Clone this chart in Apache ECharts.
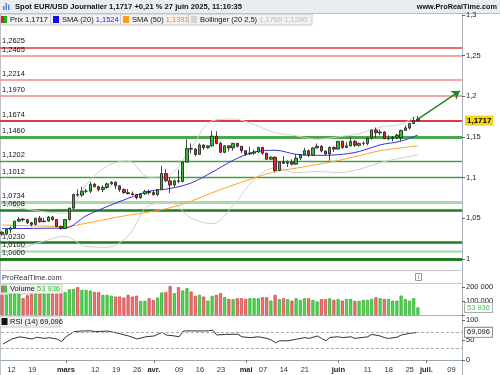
<!DOCTYPE html>
<html><head><meta charset="utf-8">
<script src="https://cdn.jsdelivr.net/npm/echarts@6/dist/echarts.min.js"></script>
<style>html,body{margin:0;padding:0;background:#fff}#c{width:500px;height:375px}</style>
</head><body><div id="c"></div>
<script>
// ---------- DATA ----------
const dates = ['02-10','02-11','02-12','02-13','02-14','02-17','02-18','02-19','02-20','02-21','02-24','02-25','02-26','02-27','02-28',
'03-03','03-04','03-05','03-06','03-07','03-10','03-11','03-12','03-13','03-14','03-17','03-18','03-19','03-20','03-21','03-24','03-25','03-26','03-27','03-28','03-31',
'04-01','04-02','04-03','04-04','04-07','04-08','04-09','04-10','04-11','04-14','04-15','04-16','04-17','04-18','04-21','04-22','04-23','04-24','04-25','04-28','04-29','04-30',
'05-01','05-02','05-05','05-06','05-07','05-08','05-09','05-12','05-13','05-14','05-15','05-16','05-19','05-20','05-21','05-22','05-23','05-26','05-27','05-28','05-29','05-30',
'06-02','06-03','06-04','06-05','06-06','06-09','06-10','06-11','06-12','06-13','06-16','06-17','06-18','06-19','06-20','06-23','06-24','06-25','06-26','06-27','06-30',
'07-01','07-02','07-03','07-04','07-07','07-08','07-09','07-10','07-11'];

const openP = [1.0330,1.0306,1.0362,1.0382,1.0465,1.0490,1.0482,1.0445,1.0425,1.0500,1.0459,1.0466,1.0514,1.0485,1.0398,
1.0375,1.0485,1.0625,1.0791,1.0785,1.0833,1.0833,1.0918,1.0888,1.0853,1.0879,1.0923,1.0943,1.0899,1.0854,1.0815,1.0802,1.0792,1.0753,1.0800,
1.0830,1.0816,1.0791,1.0852,1.1050,1.0960,1.0910,1.0960,1.0954,1.1190,1.1356,1.1350,1.1285,1.1400,1.1367,1.1390,1.1510,1.1420,1.1310,1.1390,
1.1365,1.1420,1.1385,1.1330,1.1290,1.1300,1.1315,1.1370,1.1300,1.1225,1.1250,1.1088,1.1190,1.1175,1.1190,1.1165,1.1240,1.1280,1.1330,1.1280,
1.1365,1.1385,1.1327,1.1290,1.1370,1.1350,1.1445,1.1370,1.1390,1.1445,1.1397,1.1420,1.1420,1.1485,1.1585,1.1550,1.1560,1.1478,1.1480,1.1495,
1.1490,1.1580,1.1610,1.1665,1.1700];
const highP = [1.0340,1.0375,1.0400,1.0470,1.0513,1.0505,1.0490,1.0455,1.0505,1.0528,1.0505,1.0528,1.0530,1.0490,1.0412,
1.0490,1.0630,1.0805,1.0855,1.0888,1.0862,1.0947,1.0935,1.0900,1.0906,1.0935,1.0955,1.0955,1.0905,1.0865,1.0860,1.0830,1.0800,1.0810,1.0850,
1.0855,1.0835,1.0860,1.1145,1.1105,1.1000,1.0975,1.1100,1.1200,1.1470,1.1420,1.1360,1.1420,1.1410,1.1395,1.1575,1.1570,1.1440,1.1400,1.1395,
1.1425,1.1425,1.1390,1.1335,1.1380,1.1345,1.1380,1.1380,1.1305,1.1265,1.1260,1.1195,1.1265,1.1210,1.1225,1.1285,1.1285,1.1365,1.1345,1.1375,
1.1420,1.1400,1.1330,1.1385,1.1385,1.1450,1.1455,1.1435,1.1495,1.1460,1.1430,1.1445,1.1495,1.1590,1.1615,1.1590,1.1570,1.1520,1.1510,1.1540,
1.1590,1.1640,1.1670,1.1745,1.1755];
const lowP = [1.0285,1.0290,1.0317,1.0372,1.0455,1.0460,1.0430,1.0401,1.0420,1.0445,1.0450,1.0455,1.0470,1.0390,1.0360,
1.0370,1.0470,1.0610,1.0765,1.0760,1.0810,1.0810,1.0880,1.0830,1.0822,1.0860,1.0910,1.0860,1.0825,1.0800,1.0795,1.0780,1.0733,1.0740,1.0788,
1.0790,1.0780,1.0775,1.0850,1.0950,1.0810,1.0880,1.0930,1.0940,1.1190,1.1300,1.1260,1.1280,1.1340,1.1355,1.1380,1.1410,1.1305,1.1300,1.1320,
1.1330,1.1370,1.1300,1.1265,1.1280,1.1280,1.1300,1.1280,1.1220,1.1220,1.1065,1.1080,1.1170,1.1130,1.1150,1.1160,1.1215,1.1275,1.1250,1.1275,
1.1355,1.1310,1.1280,1.1210,1.1315,1.1345,1.1355,1.1365,1.1380,1.1375,1.1380,1.1395,1.1395,1.1465,1.1490,1.1520,1.1475,1.1460,1.1445,1.1475,
1.1450,1.1575,1.1590,1.1655,1.1690];
const closeP = [1.0306,1.0362,1.0382,1.0465,1.0490,1.0482,1.0445,1.0425,1.0500,1.0459,1.0466,1.0514,1.0485,1.0398,1.0375,
1.0485,1.0625,1.0791,1.0785,1.0833,1.0833,1.0918,1.0888,1.0853,1.0879,1.0923,1.0943,1.0899,1.0854,1.0815,1.0802,1.0792,1.0753,1.0800,1.0830,
1.0816,1.0791,1.0852,1.1050,1.0960,1.0910,1.0960,1.0954,1.1190,1.1356,1.1350,1.1285,1.1400,1.1367,1.1390,1.1510,1.1420,1.1310,1.1390,1.1365,
1.1420,1.1385,1.1330,1.1290,1.1300,1.1315,1.1370,1.1300,1.1225,1.1250,1.1088,1.1190,1.1175,1.1190,1.1165,1.1240,1.1280,1.1330,1.1280,1.1365,
1.1385,1.1327,1.1290,1.1370,1.1350,1.1445,1.1370,1.1390,1.1445,1.1397,1.1420,1.1420,1.1485,1.1585,1.1550,1.1560,1.1478,1.1480,1.1495,1.1523,
1.1580,1.1610,1.1665,1.1700,1.1717];

const volume = [144000,144000,151000,151000,151000,120000,141000,149000,151000,151000,151000,151000,151000,151000,151000,
163000,184000,187000,199000,180000,180000,175000,165000,163000,144000,144000,139000,132000,132000,125000,144000,132000,139000,101000,101000,
120000,108000,125000,161000,165000,208000,156000,199000,175000,192000,168000,137000,144000,132000,103000,137000,144000,156000,127000,115000,
113000,120000,120000,115000,120000,120000,120000,127000,127000,103000,144000,113000,120000,113000,103000,120000,108000,120000,120000,108000,
96000,113000,113000,120000,108000,115000,103000,113000,115000,101000,101000,108000,108000,115000,127000,120000,115000,115000,103000,103000,
139000,113000,103000,120000,53936];

// indicator readings (weekly points)
const indDates = ['02-10','02-17','02-24','03-03','03-10','03-17','03-24','03-31','04-07','04-14','04-21','04-28','05-05','05-12','05-19','05-26','06-02','06-09','06-16','06-23','06-27'];
const sma20 = [1.0375,1.0375,1.0378,1.0380,1.0530,1.0644,1.0745,1.0832,1.0866,1.0934,1.1066,1.1212,1.1314,1.1336,1.1286,1.1273,1.1281,1.1320,1.1402,1.1448,1.1524];
const sma50 = [1.0418,1.0410,1.0405,1.0400,1.0439,1.0490,1.0538,1.0577,1.0629,1.0710,1.0814,1.0908,1.0995,1.1074,1.1116,1.1160,1.1209,1.1270,1.1330,1.1365,1.1391];
const bbUp = [1.0680,1.0620,1.0580,1.0560,1.0908,1.1144,1.1204,1.1005,1.1041,1.1365,1.1697,1.1720,1.1652,1.1552,1.1513,1.1471,1.1501,1.1539,1.1619,1.1657,1.1769];
const bbLow = [1.0060,1.0140,1.0220,1.0280,1.0152,1.0144,1.0286,1.0659,1.0691,1.0503,1.0435,1.0657,1.0976,1.1120,1.1059,1.1075,1.1061,1.1101,1.1185,1.1239,1.1280];

const rsiDates = ['02-10','02-12','02-14','02-19','02-20','02-24','02-25','02-27','02-28','03-03','03-05','03-07','03-11','03-12','03-17','03-19','03-24','03-26','03-28','04-01','04-03','04-04','04-08','04-09','04-10','04-14','04-16','04-18','04-21','04-22','04-24','04-29','04-30','05-02','05-06','05-08','05-09','05-12','05-13','05-15','05-19','05-21','05-22','05-26','05-27','05-28','05-29','06-02','06-03','06-05','06-06','06-11','06-12','06-16','06-17','06-18','06-20','06-23','06-25','06-27'];
const rsiVals = [40,52,58,52.5,57,54,56,52,46,58,71,72.5,73,71,72.5,68,60,52.5,58,60,69,62.5,60,58,72.5,73,72.5,73,75,62.5,64,64.5,58,56,58,54,50,43,48,48,52,56,54,60,54,48,56.5,58,56,58,54,58,64,60,56,54,57,62.5,66.5,69.096];

const levels = [1.2625,1.2465,1.2214,1.1970,1.1674,1.1460,1.1202,1.1012,1.0734,1.0608,1.0230,1.0100,1.0000];
const arrowFrom = ['06-27', 1.1717];
const arrowTo = ['07-11', 1.2064];
const priceTicks = [1,1.05,1.1,1.15,1.2,1.25,1.3];
const volTicks = [0,100000,200000];
const volLabelTicks = [100000,200000];
const rsiTicks = [0,50,100];
const xLabels = {'02-12':'12','02-19':'19','03-03':'mars','03-12':'12','03-19':'19','03-26':'26','04-01':'avr.','04-09':'09','04-16':'16','04-23':'23',
'05-01':'mai','05-07':'07','05-14':'14','05-21':'21','06-02':'juin','06-11':'11','06-18':'18','06-25':'25','07-01':'juil.','07-09':'09'};
const monthStarts = ['03-03','04-01','05-01','06-02','07-01'];

// ---------- STYLE ----------
const F = 'Liberation Sans';
const FS = 7.5;
const levelColors = ['#e23a3a','#f2a6a6','#f2a6a6','#f2a6a6','#e23a3a','#4aa84a','#45a045','#45a045','#a9d8a9','#1f7d1f','#1f7d1f','#b3dcb3','#1f7d1f'];
const levelWidths = [1.5,2,2,2,2,3,1.3,1.3,3,2.5,2.5,2.5,3];

const comma = (v,d) => v.toFixed(d).replace('.',',');
const n = closeP.length;
const last = n - 1;
const rsiLast = rsiVals[rsiVals.length-1];
const volLast = volume[last];
const volFmt = v => v === 0 ? '0' : (Math.floor(v/1000) + ' ' + String(v%1000).padStart(3,'0'));

const chart = echarts.init(document.getElementById('c'), null, {renderer:'canvas'});

const GL = 0, GW = 462;
const upCol = '#2fc02f', dnCol = '#e3262b';

const option = {
  animation: false,
  textStyle: {fontFamily: F},
  grid: [
    {left: GL, width: GW, top: 13, height: 255},
    {left: GL, width: GW, top: 283, height: 32},
    {left: GL, width: GW, top: 315, height: 47}
  ],
  xAxis: [0,1,2].map(g => ({
    type: 'category', gridIndex: g, data: dates, boundaryGap: true,
    axisLine: {show: g === 2, lineStyle: {color: '#9aa6b2', width: 1}},
    axisTick: {show: g === 2, inside: false, length: 3, lineStyle: {color: '#777'},
      interval: (i, v) => monthStarts.indexOf(v) >= 0, alignWithLabel: true},
    axisLabel: {show: g === 2, interval: 0, margin: 4, fontSize: FS, color: '#333', fontFamily: F,
      formatter: v => { const t = xLabels[v]; if (!t) return ''; return monthStarts.indexOf(v) >= 0 ? '{b|' + t + '}' : t; },
      rich: {b: {fontWeight: 'bold', fontSize: FS, fontFamily: F, color: '#222'}}},
    splitLine: {show: false}
  })),
  yAxis: [
    {gridIndex: 0, position: 'right', min: 0.98894, max: 1.3022, scale: true,
      axisLine: {show: false}, splitLine: {show: false},
      axisTick: {show: true, length: 3, lineStyle: {color: '#666'}, customValues: priceTicks},
      axisLabel: {margin: 4, fontSize: FS, color: '#222', fontFamily: F, customValues: priceTicks, showMaxLabel: true,
        formatter: v => String(+(+v).toFixed(2)).replace('.', ',')}},
    {gridIndex: 1, position: 'right', min: 0, max: 230000,
      axisLine: {show: false}, splitLine: {show: false},
      axisTick: {show: true, length: 3, lineStyle: {color: '#666'}, customValues: volTicks},
      axisLabel: {margin: 4, fontSize: FS, color: '#222', fontFamily: F, customValues: volLabelTicks, formatter: v => volFmt(+v)}},
    {gridIndex: 2, position: 'right', min: -5, max: 112.5,
      axisLine: {show: false}, splitLine: {show: false},
      axisTick: {show: true, length: 3, lineStyle: {color: '#666'}, customValues: rsiTicks},
      axisLabel: {margin: 4, fontSize: FS, color: '#222', fontFamily: F, customValues: rsiTicks, showMaxLabel: true, showMinLabel: true, hideOverlap: false,
        formatter: v => String(v)}}
  ],
  series: [
    {type: 'line', xAxisIndex: 0, yAxisIndex: 0, data: indDates.map((d,i)=>[d,bbUp[i]]), smooth: 0.35, showSymbol: false, connectNulls: true,
      lineStyle: {color: '#cfcfcf', width: 1}, z: 1},
    {type: 'line', xAxisIndex: 0, yAxisIndex: 0, data: indDates.map((d,i)=>[d,bbLow[i]]), smooth: 0.35, showSymbol: false, connectNulls: true,
      lineStyle: {color: '#cfcfcf', width: 1}, z: 1},
    {type: 'line', xAxisIndex: 0, yAxisIndex: 0, data: indDates.map((d,i)=>[d,sma50[i]]), smooth: 0.35, showSymbol: false,
      lineStyle: {color: '#ffa42e', width: 1}, z: 2},
    {type: 'line', xAxisIndex: 0, yAxisIndex: 0, data: indDates.map((d,i)=>[d,sma20[i]]), smooth: 0.35, showSymbol: false,
      lineStyle: {color: '#3030e0', width: 1}, z: 2},
    {type: 'candlestick', xAxisIndex: 0, yAxisIndex: 0, barWidth: 3, z: 5,
      data: closeP.map((c,i)=>[openP[i], c, lowP[i], highP[i]]),
      itemStyle: {color: upCol, color0: dnCol, borderColor: '#1a1a1a', borderColor0: '#1a1a1a', borderWidth: 0.8},
      markLine: {silent: true, animation: false, symbol: ['none','none'], z: 0,
        data: levels.map((v,i)=>({yAxis: v, lineStyle: {color: levelColors[i], width: levelWidths[i], type: 'solid'},
          label: {show: true, position: 'insideStartTop', distance: [2, 2], formatter: comma(v,4), color: '#111', fontSize: FS, fontFamily: F}}))
          .concat([
            {yAxis: closeP[last], lineStyle: {color: 'rgba(0,0,0,0)', width: 0},
              label: {show: true, position: 'end', distance: 3, formatter: comma(closeP[last],4), color: '#000', fontWeight: 'bold',
                fontSize: 8, fontFamily: F, backgroundColor: '#f4d416', padding: [1,2,1,2]}},
            [{coord: arrowFrom, symbol: 'none', lineStyle: {color: '#1d8a1d', width: 1.5, type: 'solid'}, label: {show: false}},
             {coord: arrowTo, symbol: 'arrow', symbolSize: 8}]
          ])}},
    {type: 'bar', xAxisIndex: 1, yAxisIndex: 1, barWidth: 3,
      data: volume.map((v,i)=>({value: v, itemStyle: closeP[i] >= openP[i]
        ? {color: '#4fd84f', borderColor: '#1f9a1f', borderWidth: 0.6}
        : {color: '#ec7474', borderColor: '#c23030', borderWidth: 0.6}})),
      markLine: {silent: true, symbol: ['none','none'], data: [{yAxis: volLast, lineStyle: {color: 'rgba(0,0,0,0)', width: 0},
        label: {show: true, position: 'end', distance: 3, formatter: volFmt(volLast), color: '#3cc83c', fontSize: FS, fontFamily: F,
          backgroundColor: '#fff', borderColor: '#aaa', borderWidth: 1, padding: [1,2,0,2]}}]}},
    {type: 'line', xAxisIndex: 2, yAxisIndex: 2, data: rsiDates.map((d,i)=>[d,rsiVals[i]]), showSymbol: false, connectNulls: true,
      lineStyle: {color: '#333', width: 1},
      markLine: {silent: true, symbol: ['none','none'], data: [
        {yAxis: 70, lineStyle: {color: '#aaa', width: 1, type: [3,2]}, label: {show: false}},
        {yAxis: 30, lineStyle: {color: '#aaa', width: 1, type: [3,2]}, label: {show: false}},
        {yAxis: rsiLast, lineStyle: {color: 'rgba(0,0,0,0)', width: 0},
          label: {show: true, position: 'end', distance: 3, formatter: comma(rsiLast,3), color: '#111', fontSize: FS, fontFamily: F,
            backgroundColor: '#fff', borderColor: '#888', borderWidth: 1, padding: [1,2,0,2]}}]}}
  ],
  graphic: [
    {type: 'rect', shape: {x: 0, y: 0, width: 500, height: 13}, style: {fill: '#e9edf1'}, silent: true},
    {type: 'line', shape: {x1: 0, y1: 13.5, x2: 500, y2: 13.5}, style: {stroke: '#b4bec8', lineWidth: 1}},
    {type: 'rect', shape: {x: 3, y: 6, width: 1.5, height: 4}, style: {fill: '#4a8ad8'}},
    {type: 'rect', shape: {x: 5.5, y: 3, width: 1.5, height: 7}, style: {fill: '#4a8ad8'}},
    {type: 'rect', shape: {x: 8, y: 4.5, width: 1.5, height: 5.5}, style: {fill: '#4a8ad8'}},
    {type: 'text', x: 15, y: 7, style: {text: 'Spot EUR/USD Journalier ' + comma(closeP[last],4) + ' +0,21 % 27 juin 2025, 11:10:35',
      font: 'bold 7.6px "Liberation Sans"', fill: '#111', textVerticalAlign: 'middle'}},
    {type: 'text', x: 497, y: 7, style: {text: 'www.ProRealTime.com', font: 'bold 7.3px "Liberation Sans"', fill: '#111', textAlign: 'right', textVerticalAlign: 'middle'}},
    // legend row
    {type: 'rect', shape: {x: 0, y: 14, width: 312, height: 11}, style: {fill: '#f1f1f1', stroke: '#c8c8c8', lineWidth: 1}},
    {type: 'rect', shape: {x: 1, y: 16, width: 3, height: 7}, style: {fill: '#e02020'}},
    {type: 'rect', shape: {x: 4, y: 16, width: 3, height: 7}, style: {fill: '#20b020'}},
    {type: 'text', x: 10, y: 19.8, style: {text: 'Prix ' + comma(closeP[last],4), font: '7.5px "Liberation Sans"', fill: '#111', textVerticalAlign: 'middle'}},
    {type: 'line', shape: {x1: 50.5, y1: 14, x2: 50.5, y2: 25}, style: {stroke: '#c8c8c8'}},
    {type: 'rect', shape: {x: 53, y: 16, width: 6, height: 7}, style: {fill: '#1010ee'}},
    {type: 'text', x: 62, y: 19.8, style: {rich: {a: {fill: '#111'}, b: {fill: '#2222ee'}}, text: '{a|SMA (20) }{b|' + comma(sma20[sma20.length-1],4) + '}',
      font: '7.5px "Liberation Sans"', textVerticalAlign: 'middle'}},
    {type: 'line', shape: {x1: 120.5, y1: 14, x2: 120.5, y2: 25}, style: {stroke: '#c8c8c8'}},
    {type: 'rect', shape: {x: 123, y: 16, width: 6, height: 7}, style: {fill: '#ff9a1a'}},
    {type: 'text', x: 132, y: 19.8, style: {rich: {a: {fill: '#111'}, b: {fill: '#f08a10'}}, text: '{a|SMA (50) }{b|' + comma(sma50[sma50.length-1],4) + '}',
      font: '7.5px "Liberation Sans"', textVerticalAlign: 'middle'}},
    {type: 'line', shape: {x1: 188.5, y1: 14, x2: 188.5, y2: 25}, style: {stroke: '#c8c8c8'}},
    {type: 'rect', shape: {x: 191, y: 16, width: 6, height: 7}, style: {fill: '#d4d4d4'}},
    {type: 'text', x: 200, y: 19.8, style: {rich: {a: {fill: '#111'}, b: {fill: '#bdbdbd'}}, text: '{a|Bollinger (20 2,5) }{b|' + comma(bbUp[bbUp.length-1],4) + ' ' + comma(bbLow[bbLow.length-1],4) + '}',
      font: '7.5px "Liberation Sans"', textVerticalAlign: 'middle'}},
    // right axis line
    {type: 'line', shape: {x1: 462.5, y1: 13, x2: 462.5, y2: 375}, style: {stroke: '#a9b4bf', lineWidth: 1}},
    {type: 'line', shape: {x1: 0.5, y1: 13, x2: 0.5, y2: 375}, style: {stroke: '#b8c2cc', lineWidth: 1}},
    // separators
    {type: 'line', shape: {x1: 0, y1: 270.5, x2: 462, y2: 270.5}, style: {stroke: '#c8c8c8', lineWidth: 1}},
    {type: 'line', shape: {x1: 0, y1: 283.5, x2: 462, y2: 283.5}, style: {stroke: '#c8c8c8', lineWidth: 1}},
    {type: 'line', shape: {x1: 0, y1: 315.5, x2: 462, y2: 315.5}, style: {stroke: '#b0b0b0', lineWidth: 1}},
    {type: 'text', x: 2, y: 277.5, style: {text: 'ProRealTime.com', font: '7.5px "Liberation Sans"', fill: '#333', textVerticalAlign: 'middle'}},
    {type: 'rect', shape: {x: 415.5, y: 273.5, width: 6, height: 7}, style: {fill: '#fff', stroke: '#999', lineWidth: 1}},
    {type: 'text', x: 418.5, y: 277.5, style: {text: 'i', font: '6px "Liberation Sans"', fill: '#666', textAlign: 'center', textVerticalAlign: 'middle'}},
    // volume legend
    {type: 'rect', shape: {x: 0, y: 284, width: 62, height: 10}, style: {fill: '#f1f1f1', stroke: '#c8c8c8', lineWidth: 1}},
    {type: 'rect', shape: {x: 1, y: 285.5, width: 3, height: 7}, style: {fill: '#e56060'}},
    {type: 'rect', shape: {x: 4, y: 285.5, width: 3, height: 7}, style: {fill: '#40c840'}},
    {type: 'text', x: 10, y: 289.3, style: {rich: {a: {fill: '#111'}, b: {fill: '#3cc83c'}}, text: '{a|Volume }{b|' + volFmt(volLast) + '}',
      font: '7.5px "Liberation Sans"', textVerticalAlign: 'middle'}},
    // rsi legend
    {type: 'rect', shape: {x: 0, y: 316, width: 60, height: 11}, style: {fill: '#f1f1f1', stroke: '#c8c8c8', lineWidth: 1}},
    {type: 'rect', shape: {x: 1.5, y: 318, width: 6, height: 7}, style: {fill: '#111'}},
    {type: 'text', x: 10, y: 321.8, style: {text: 'RSI (14) ' + comma(rsiLast,3), font: '7.5px "Liberation Sans"', fill: '#111', textVerticalAlign: 'middle'}}
  ]
};
chart.setOption(option);
</script></body></html>
